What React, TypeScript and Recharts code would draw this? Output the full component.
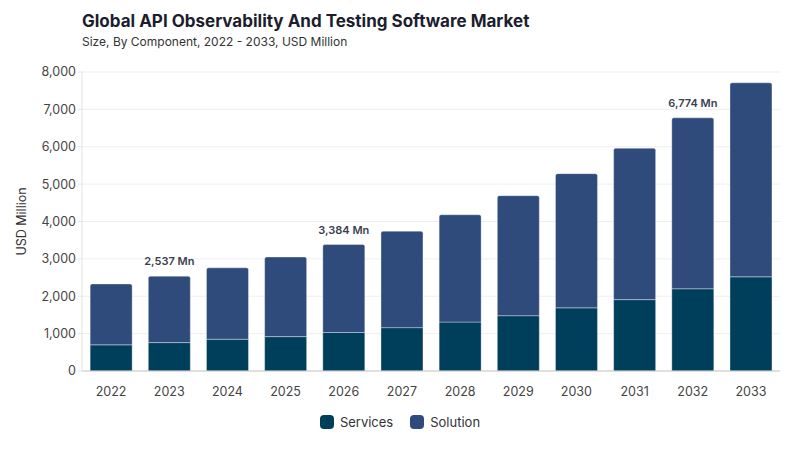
import * as React from 'react';
import {BarChart, Bar, XAxis, YAxis, CartesianGrid, LabelList} from 'recharts';

const years = ['2022', '2023', '2024', '2025', '2026', '2027', '2028', '2029', '2030', '2031', '2032', '2033'];
const services = [700, 760, 850, 920, 1030, 1160, 1310, 1480, 1690, 1910, 2200, 2520];
const totals = [2330, 2537, 2760, 3050, 3384, 3740, 4180, 4690, 5280, 5960, 6774, 7710];
const labelledYears = ['2023', '2026', '2032'];
const yTicks = [0, 1000, 2000, 3000, 4000, 5000, 6000, 7000, 8000];

const FONT = 'Inter, "Noto Sans", sans-serif';
const SERVICES_COLOR = '#003f5c';
const SOLUTION_COLOR = '#2f4b7c';

const data = years.map((year, i) => ({
    year,
    services: services[i],
    solution: totals[i] - services[i],
    total: totals[i],
    label: labelledYears.includes(year) ? totals[i].toLocaleString('en-US') + ' Mn' : ''
}));

const TotalLabel = (props: any) => {
    const {x, y, width, value} = props;
    if (!value) return null;
    return (
        <text x={x + width / 2} y={y - 11} textAnchor="middle" fontSize={11} fontWeight={600}
              fill="#3b3f4f" fontFamily={FONT}>
            {value}
        </text>
    );
};

const legendItems = [{name: 'Services', color: SERVICES_COLOR}, {name: 'Solution', color: SOLUTION_COLOR}];

export default function App() {
    return (
        <div style={{position: 'absolute', top: 0, left: 0, width: 800, height: 450, background: '#fff', fontFamily: FONT}}>
            <div style={{position: 'absolute', left: 82, top: 11, fontSize: 17, fontWeight: 700, color: '#1c1d2e'}}>
                Global API Observability And Testing Software Market
            </div>
            <div style={{position: 'absolute', left: 82, top: 34, fontSize: 12, color: '#333'}}>
                Size, By Component, 2022 - 2033, USD Million
            </div>
            <BarChart width={800} height={450} data={data}
                      margin={{top: 72, right: 20, left: 0, bottom: 49}}
                      barCategoryGap="14%">
                <CartesianGrid vertical={false} stroke="#efefef"/>
                <XAxis dataKey="year" axisLine={{stroke: '#c8c8c8'}} tickLine={false}
                       tick={{fontSize: 12.5, fill: '#444', fontFamily: FONT}} tickMargin={10}/>
                <YAxis width={82} ticks={yTicks} domain={[0, 8000]} axisLine={{stroke: '#e2e2e2'}}
                       tickLine={{stroke: '#e2e2e2'}} tickSize={4}
                       tick={{fontSize: 12.5, fill: '#444', fontFamily: FONT}}
                       tickFormatter={(v: number) => v.toLocaleString('en-US')}
                       label={{value: 'USD Million', angle: -90, position: 'insideLeft', offset: 22,
                           style: {fontSize: 12.5, fill: '#333', fontFamily: FONT, textAnchor: 'middle'}}}/>
                <Bar dataKey="services" name="Services" stackId="a" fill={SERVICES_COLOR}
                     stroke="rgba(255,255,255,0.35)" strokeWidth={1} isAnimationActive={false}/>
                <Bar dataKey="solution" name="Solution" stackId="a" fill={SOLUTION_COLOR}
                     stroke="rgba(255,255,255,0.35)" strokeWidth={1} radius={[2, 2, 0, 0]} isAnimationActive={false}>
                    <LabelList dataKey="label" content={<TotalLabel/>}/>
                </Bar>
            </BarChart>
            <div style={{position: 'absolute', top: 414, left: 0, width: 800, display: 'flex', justifyContent: 'center',
                gap: 17, fontSize: 13, color: '#333'}}>
                {legendItems.map(item => (
                    <div key={item.name} style={{display: 'flex', alignItems: 'center', gap: 6}}>
                        <span style={{width: 14, height: 14, borderRadius: 4, background: item.color, display: 'inline-block'}}/>
                        <span>{item.name}</span>
                    </div>
                ))}
            </div>
        </div>
    );
}
